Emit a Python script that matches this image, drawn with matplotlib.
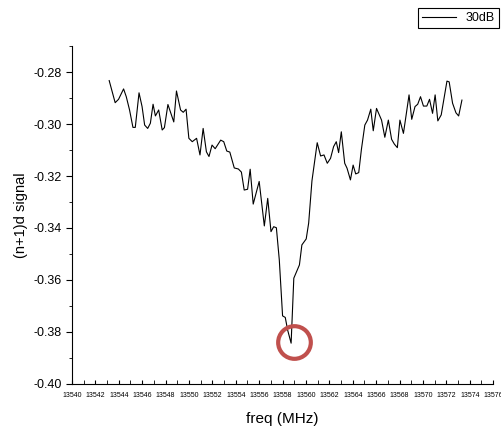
import matplotlib
matplotlib.use('Agg')
import matplotlib.pyplot as plt
from matplotlib.ticker import MultipleLocator, FormatStrFormatter

plt.rcParams['font.family'] = ['Liberation Sans', 'DejaVu Sans']

freq = [13543.18, 13543.69, 13543.98, 13544.41, 13544.64, 13544.92, 13545.21, 13545.41,
        13545.73, 13545.99, 13546.21, 13546.47, 13546.70, 13546.93, 13547.13, 13547.41,
        13547.71, 13547.90, 13548.20, 13548.70, 13548.93, 13549.28, 13549.51, 13549.75,
        13549.99, 13550.28, 13550.65, 13550.94, 13551.21, 13551.49, 13551.71, 13551.97,
        13552.24, 13552.71, 13552.97, 13553.23, 13553.49, 13553.87, 13554.22, 13554.48,
        13554.72, 13555.01, 13555.23, 13555.49, 13556.00, 13556.44, 13556.73, 13557.01,
        13557.24, 13557.47, 13557.72, 13558.00, 13558.23, 13558.43, 13558.73, 13558.96,
        13559.44, 13559.65, 13560.02, 13560.23, 13560.51, 13560.96, 13561.25, 13561.54,
        13561.82, 13562.10, 13562.36, 13562.59, 13562.79, 13563.02, 13563.31, 13563.51,
        13563.80, 13564.03, 13564.25, 13564.51, 13564.74, 13565.03, 13565.26, 13565.54,
        13565.75, 13566.03, 13566.46, 13566.74, 13567.04, 13567.32, 13567.55, 13567.81,
        13568.03, 13568.33, 13568.52, 13568.81, 13569.04, 13569.32, 13569.55, 13569.79,
        13570.04, 13570.33, 13570.56, 13570.82, 13571.04, 13571.27, 13571.56, 13572.05,
        13572.24, 13572.53, 13572.82, 13573.05, 13573.33]
signal = [-0.2833, -0.2918, -0.2905, -0.2865, -0.2895, -0.2946, -0.3013, -0.3013,
          -0.2880, -0.2933, -0.3004, -0.3017, -0.2997, -0.2924, -0.2969, -0.2946,
          -0.3023, -0.3014, -0.2925, -0.2992, -0.2873, -0.2946, -0.2955, -0.2943,
          -0.3055, -0.3068, -0.3055, -0.3119, -0.3017, -0.3107, -0.3125, -0.3081,
          -0.3095, -0.3062, -0.3068, -0.3104, -0.3108, -0.3169, -0.3173, -0.3185,
          -0.3254, -0.3251, -0.3174, -0.3308, -0.3221, -0.3392, -0.3286, -0.3414,
          -0.3395, -0.3399, -0.3523, -0.3738, -0.3744, -0.3792, -0.3843, -0.3593,
          -0.3542, -0.3465, -0.3442, -0.3381, -0.3219, -0.3072, -0.3123, -0.3119,
          -0.3151, -0.3132, -0.3087, -0.3068, -0.3110, -0.3030, -0.3151, -0.3170,
          -0.3215, -0.3158, -0.3192, -0.3187, -0.3097, -0.3004, -0.2985, -0.2943,
          -0.3026, -0.2940, -0.2985, -0.3051, -0.2985, -0.3059, -0.3077, -0.3091,
          -0.2985, -0.3036, -0.2978, -0.2888, -0.2982, -0.2933, -0.2924, -0.2895,
          -0.2931, -0.2931, -0.2905, -0.2959, -0.2888, -0.2988, -0.2965, -0.2835,
          -0.2838, -0.2920, -0.2957, -0.2969, -0.2908]
dip_freq = [13559.0]
dip_signal = [-0.3840]

fig = plt.figure(figsize=(5.02, 4.30), dpi=100)
ax = fig.add_axes([0.1434, 0.107, 0.839, 0.786])

ax.plot(freq, signal, color='black', linewidth=0.8, label='30dB')
ax.plot(dip_freq, dip_signal, linestyle='none', marker='o', markersize=23.5,
        markerfacecolor='none', markeredgecolor='#C0504D', markeredgewidth=3.0)

ax.set_xlim(13540, 13576)
ax.set_ylim(-0.40, -0.27)
ax.spines['top'].set_visible(False)
ax.spines['right'].set_visible(False)

ax.xaxis.set_major_locator(MultipleLocator(2))
ax.xaxis.set_minor_locator(MultipleLocator(1))
ax.yaxis.set_major_locator(MultipleLocator(0.02))
ax.yaxis.set_minor_locator(MultipleLocator(0.01))
ax.yaxis.set_major_formatter(FormatStrFormatter('%.2f'))
ax.tick_params(axis='x', which='both', direction='in', length=3, labelsize=5, pad=6)
ax.tick_params(axis='y', which='major', direction='out', length=4, labelsize=9)
ax.tick_params(axis='y', which='minor', direction='out', length=2)

ax.set_xlabel('freq (MHz)', fontsize=11, labelpad=9)
ax.set_ylabel('(n+1)d signal', fontsize=10.5)

leg = ax.legend(loc='upper right', bbox_to_anchor=(0.994, 0.981),
                bbox_transform=fig.transFigure, fontsize=9, fancybox=False,
                edgecolor='black', framealpha=1, handlelength=2.7,
                borderpad=0.3, borderaxespad=0)
leg.get_frame().set_linewidth(0.8)

fig.savefig('out.png', dpi=100)
